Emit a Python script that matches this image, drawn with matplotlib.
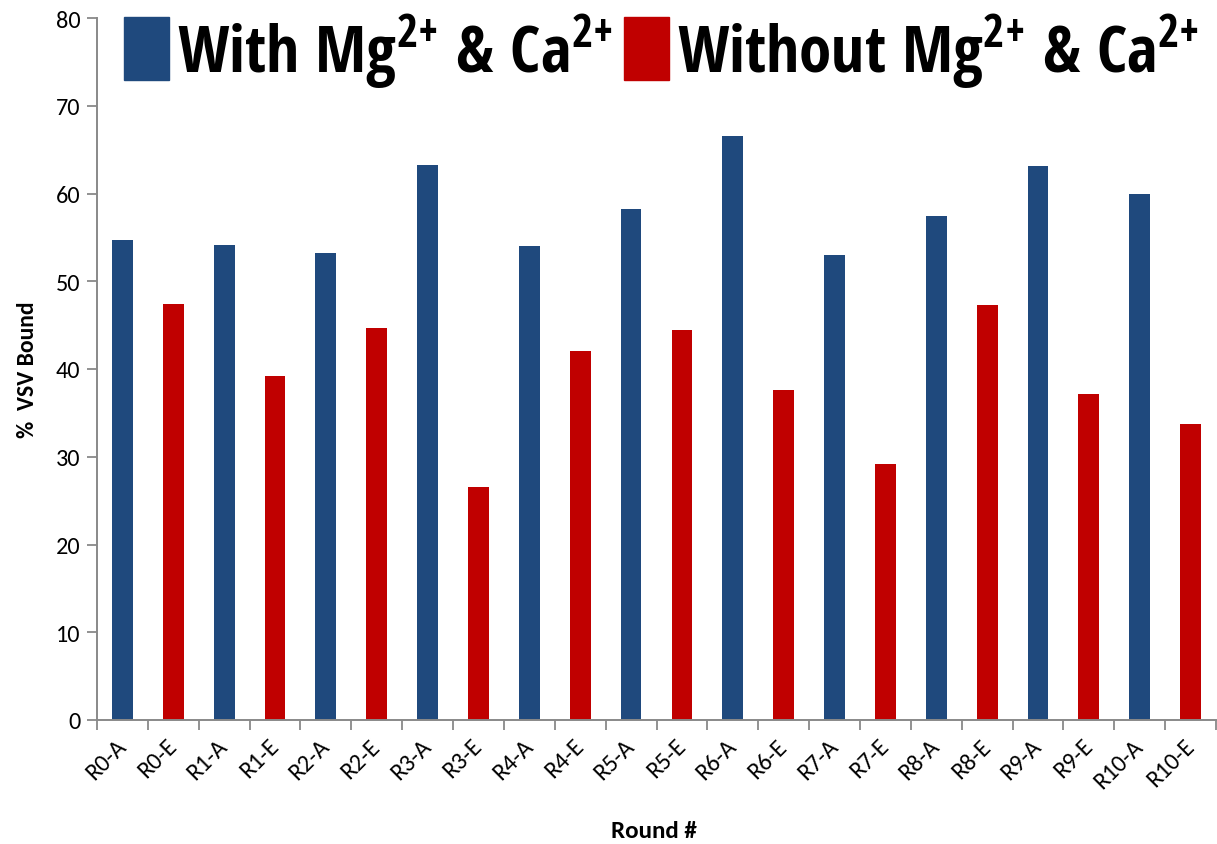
import numpy as np
import matplotlib.pyplot as plt
from matplotlib.patches import Patch

plt.rcParams['font.family'] = ['Carlito', 'Open Sans', 'DejaVu Sans']
plt.rcParams['mathtext.default'] = 'regular'

# % VSV bound per selection round, A = with divalent ions, E = without
rounds = ['R0', 'R1', 'R2', 'R3', 'R4', 'R5', 'R6', 'R7', 'R8', 'R9', 'R10']
with_ions = [54.7, 54.1, 53.2, 63.2, 54.0, 58.2, 66.6, 53.0, 57.4, 63.1, 59.9]
without_ions = [47.4, 39.2, 44.7, 26.5, 42.1, 44.4, 37.6, 29.2, 47.3, 37.2, 33.7]

labels = []
values = []
for r, a, e in zip(rounds, with_ions, without_ions):
    labels += [r + '-A', r + '-E']
    values += [a, e]

blue = '#1F497D'
red = '#C00000'
colors = [blue, red] * len(rounds)
axis_grey = '#898989'

fig = plt.figure(figsize=(12.17, 8.45), dpi=100)
ax = fig.add_axes([97 / 1217, 1 - 721 / 845, 1119 / 1217, 702 / 845])

x = np.arange(len(labels))
ax.bar(x, values, width=0.41, color=colors)

ax.set_xlim(-0.5, len(labels) - 0.5)
ax.set_ylim(0, 80)
ax.set_yticks(np.arange(0, 81, 10))

# category labels centred, tick marks on the category boundaries
ax.set_xticks(x)
ax.set_xticklabels(labels, rotation=45, ha='right', va='center', rotation_mode='anchor')
ax.set_xticks(np.arange(-0.5, len(labels)), minor=True)
ax.tick_params(axis='x', which='major', length=0, pad=16, labelsize=17.5)
ax.tick_params(axis='x', which='minor', length=7, width=1.3, color=axis_grey)
ax.tick_params(axis='y', length=7, width=1.3, color=axis_grey, labelsize=17.5, pad=5)

for side in ['top', 'right']:
    ax.spines[side].set_visible(False)
for side in ['left', 'bottom']:
    ax.spines[side].set_color(axis_grey)
    ax.spines[side].set_linewidth(1.4)

ax.set_ylabel('%  VSV Bound', fontsize=17, fontweight='bold', va='center')
ax.yaxis.set_label_coords(-0.062, 0.5)
ax.set_xlabel('Round #', fontsize=18, fontweight='bold', va='center')
ax.xaxis.set_label_coords(0.498, -0.158)

fs = 47
em = fs * 100 / 72
handles = [Patch(color=blue), Patch(color=red)]
# braces keep the "+" from getting operator spacing in the superscript
leg_labels = [r'With Mg$^{2{+}}$ & Ca$^{2{+}}$', r'Without Mg$^{2{+}}$ & Ca$^{2{+}}$']
fig.legend(handles, leg_labels, loc='upper left', bbox_to_anchor=(124 / 1217, 1 - 12 / 845),
           ncol=2, frameon=False, borderpad=0, borderaxespad=0,
           handlelength=45 / em, handleheight=72 / em,
           handletextpad=8 / em, columnspacing=12 / em,
           prop={'family': ['Open Sans Condensed', 'Carlito', 'DejaVu Sans'],
                 'weight': 'bold', 'size': fs})

fig.savefig('out.png', dpi=100)
